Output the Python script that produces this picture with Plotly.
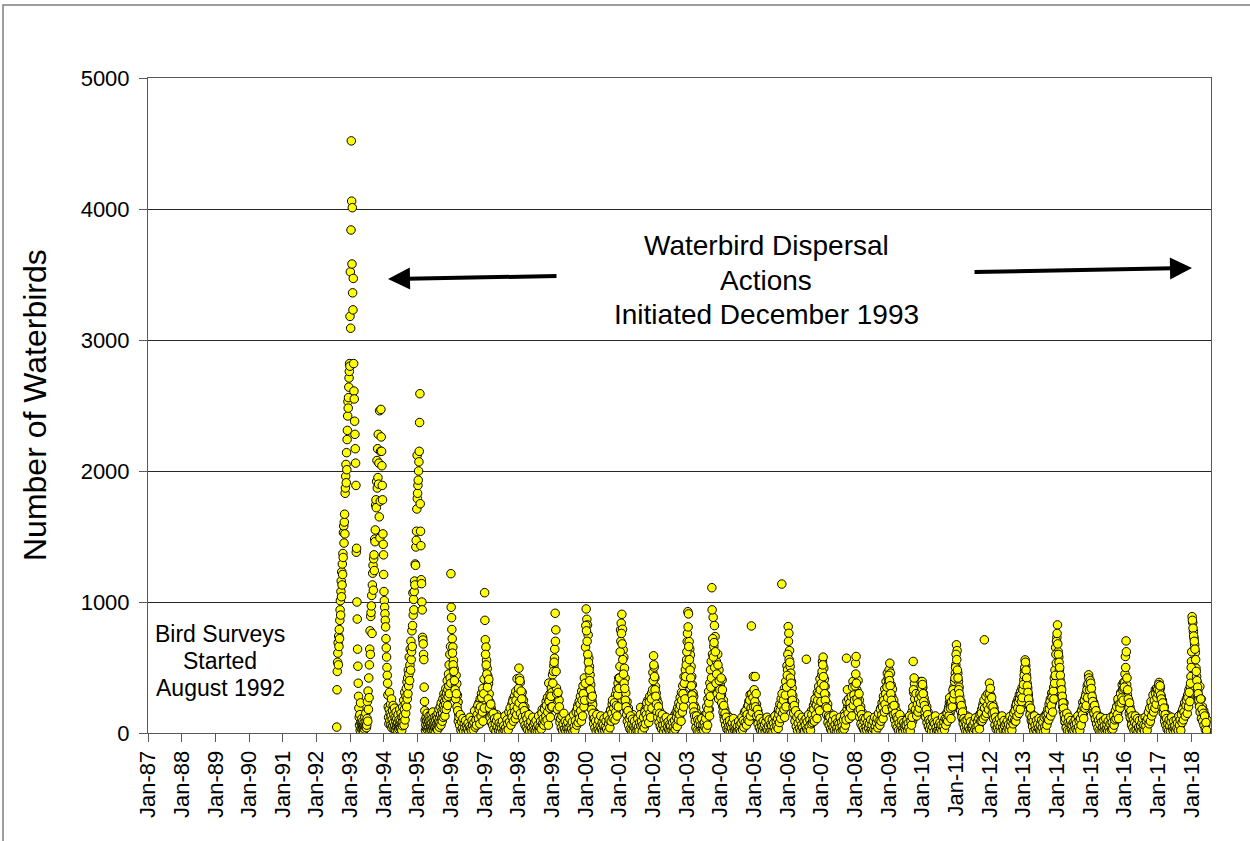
import pandas as pd
import plotly.graph_objects as go

# ---------------- data: waterbird counts per survey season ----------------
season_years = [1992, 1993, 1994, 1995, 1996, 1997, 1998, 1999, 2000, 2001, 2002, 2003, 2004,
                2005, 2006, 2007, 2008, 2009, 2010, 2011, 2012, 2013, 2014, 2015, 2016, 2017, 2018]
season_first_survey = ["1992-08-10"] + [f"{y}-01-01" for y in range(1993, 2019)]
season_last_survey = [f"{y}-12-31" for y in range(1992, 1996)] + [f"{y}-12-26" for y in range(1996, 2018)] + ["2018-06-18"]

c1992 = [45, 330, 470, 540, 610, 690, 520, 740, 660, 790,
         720, 860, 940, 1010, 900, 1080, 1160, 1040, 1230, 1130,
         1290, 1210, 1370, 1340, 1530, 1580, 1450, 1610, 1670, 1520,
         1830, 1870, 1960, 2050, 1910, 2140, 2010, 2240, 2310, 2420,
         2530, 2480, 2560, 2640, 2710, 2760, 2820, 2800]
c1993 = [3180, 3520, 3090, 3840, 4520, 4060, 3580, 4010, 3360,
         3230, 3470, 2820, 2610, 2550, 2380, 2280, 2170,
         2060, 1890, 1380, 1410, 1000, 870, 640, 510, 380,
         280, 190, 120, 60, 140, 20, 230, 80,
         35, 70, 110, 25, 60, 90, 40, 15, 55,
         80, 30, 120, 60, 45, 150, 90, 40,
         60, 110, 240, 90, 320, 180, 420, 270, 520,
         640, 780, 600, 890, 920, 970, 1050, 760, 1130,
         1220, 1280, 1090, 1330, 1360, 1240, 1480, 1460,
         1550, 1740, 1780, 1720, 1920, 2080, 1870, 2170, 1950,
         2280, 1900, 2060, 1650, 2460, 1490, 1770, 2150,
         2470, 2260, 2150, 2040, 1890, 1780, 1520, 1440, 1360]
c1994 = [1210, 1080, 1010, 960, 910, 860, 810, 720, 650,
         580, 500, 440, 380, 290, 200, 120, 70,
         180, 310, 95, 150, 220, 60, 130, 260, 40,
         100, 170, 55, 210, 80, 140, 30, 190,
         60, 120, 25, 90, 160, 45, 110, 70, 20,
         80, 140, 50, 30, 100, 60, 180, 40,
         90, 35, 150, 70, 20, 120, 55, 200, 85,
         130, 250, 60, 180, 310, 100, 220, 150, 280,
         340, 200, 390, 260, 420, 300, 480, 360,
         450, 580, 400, 520, 640, 480, 700, 560, 620,
         780, 660, 820, 1070, 900, 1020, 940, 1080,
         1160, 1130, 1290, 1280, 1420, 1470, 1540, 1710, 2120]
c1995 = [1790, 1830, 1890, 1930, 2000, 2070, 2150, 2370, 2590,
         1750, 1540, 1430, 1170, 1140, 1000, 940, 730,
         710, 680, 600, 560, 350, 240, 170, 100, 20,
         60, 120, 35, 90, 150, 25, 70, 110,
         40, 85, 130, 20, 65, 100, 30, 55, 140,
         75, 25, 110, 50, 160, 35, 90, 20,
         60, 120, 40, 80, 15, 100, 50, 130, 30,
         70, 110, 25, 150, 60, 90, 180, 45, 120,
         80, 200, 140, 60, 230, 110, 170, 90,
         150, 260, 120, 210, 300, 180, 240, 130, 280,
         220, 340, 180, 300, 260, 400, 210, 330,
         280, 450, 360, 520, 300, 600, 420, 660, 380]
c1996 = [1216, 880, 720, 656, 555, 491, 440, 364, 440, 377, 288, 237, 148,
         110, 70, 130, 45, 90, 30, 60, 100, 25, 50, 80, 20, 40,
         30, 60, 15, 45, 90, 25, 70, 40, 110, 55, 130, 80, 150,
         120, 190, 90, 160, 230, 140, 260, 180, 300, 220, 340, 250, 410]
c1997 = [1071, 712, 656, 555, 491, 433, 377, 300, 237, 148, 190, 110, 160,
         80, 120, 50, 95, 30, 70, 140, 40, 60, 25, 90, 35, 55,
         20, 45, 70, 30, 100, 50, 15, 80, 60, 120, 40, 95, 140,
         110, 180, 90, 220, 150, 260, 130, 280, 200, 317, 170, 414, 240]
c1998 = [284, 495, 419, 386, 228, 279, 310, 190, 250, 140, 200, 110, 160,
         90, 130, 60, 100, 40, 80, 120, 30, 70, 50, 20, 90, 45,
         30, 65, 20, 90, 50, 110, 35, 75, 140, 60, 100, 180, 80,
         150, 120, 200, 170, 240, 140, 270, 210, 381, 260, 300, 230, 343]
c1999 = [310, 444, 266, 513, 571, 914, 787, 343, 279, 230, 180, 250, 130,
         150, 90, 120, 60, 100, 40, 80, 55, 30, 70, 110, 45, 25,
         60, 35, 90, 20, 75, 50, 120, 30, 100, 65, 140, 85, 170,
         130, 210, 160, 240, 110, 280, 190, 320, 230, 360, 270, 420, 305]
c2000 = [655, 947, 868, 825, 749, 571, 508, 444, 368, 305, 241, 216, 114,
         160, 80, 130, 50, 100, 30, 70, 120, 40, 90, 20, 60, 35,
         50, 25, 80, 40, 110, 20, 65, 95, 45, 130, 75, 150, 100,
         180, 120, 220, 160, 250, 140, 200, 290, 180, 330, 240, 380, 419]
c2001 = [343, 508, 787, 838, 906, 792, 635, 579, 495, 419, 305, 183, 240,
         130, 190, 80, 150, 60, 110, 40, 90, 140, 30, 70, 50, 20,
         40, 80, 25, 60, 100, 35, 75, 195, 127, 25, 110, 60, 150,
         120, 180, 90, 210, 150, 250, 130, 190, 280, 220, 160, 305, 240]
c2002 = [462, 589, 503, 419, 355, 305, 259, 190, 230, 127, 170, 90, 140,
         70, 110, 40, 90, 130, 55, 25, 80, 60, 100, 35, 50, 20,
         45, 75, 30, 95, 55, 20, 120, 65, 140, 85, 160, 110, 190,
         150, 230, 120, 270, 180, 310, 210, 360, 250, 431, 300, 482, 380]
c2003 = [558, 698, 926, 909, 698, 640, 596, 508, 431, 368, 305, 279, 211,
         140, 190, 90, 150, 60, 120, 40, 80, 110, 30, 70, 50, 20,
         60, 100, 35, 140, 80, 200, 120, 260, 317, 180, 381, 482, 546,
         1109, 602, 883, 660, 820, 736, 431, 546, 381, 602, 330, 482, 292]
c2004 = [368, 330, 292, 406, 203, 250, 127, 180, 90, 150, 60, 110, 40,
         80, 120, 30, 70, 100, 45, 20, 65, 90, 35, 55, 15, 40,
         25, 60, 35, 80, 20, 50, 100, 40, 70, 120, 55, 90, 140,
         110, 170, 80, 200, 130, 240, 160, 292, 190, 817, 241, 210, 431]
c2005 = [260, 180, 431, 150, 220, 110, 170, 80, 130, 60, 100, 40, 90,
         50, 75, 25, 110, 45, 70, 20, 60, 35, 90, 15, 50, 30,
         40, 70, 20, 55, 95, 30, 80, 45, 120, 60, 150, 90, 180,
         130, 220, 160, 260, 1137, 200, 300, 240, 340, 266, 393, 280, 513]
c2006 = [482, 812, 761, 629, 508, 457, 393, 343, 284, 228, 178, 240, 130,
         90, 150, 60, 110, 40, 80, 125, 30, 70, 50, 100, 25, 60,
         40, 85, 20, 563, 60, 110, 35, 75, 140, 55, 95, 170, 120,
         150, 210, 130, 234, 180, 270, 160, 310, 220, 355, 250, 414, 290]
c2007 = [335, 444, 546, 579, 495, 411, 355, 292, 234, 178, 220, 120, 160,
         90, 130, 50, 100, 70, 30, 110, 60, 40, 85, 20, 55, 35,
         50, 25, 80, 45, 100, 30, 65, 120, 50, 90, 150, 70, 130,
         571, 180, 216, 140, 330, 200, 260, 170, 300, 230, 393, 250, 330]
c2008 = [300, 533, 584, 330, 279, 400, 203, 250, 150, 200, 102, 160, 80,
         120, 60, 95, 40, 75, 110, 30, 60, 90, 20, 50, 35, 70,
         25, 55, 40, 85, 20, 65, 100, 45, 75, 130, 60, 110, 150,
         120, 190, 150, 230, 170, 280, 200, 335, 250, 393, 300, 457, 368]
c2009 = [411, 482, 533, 457, 368, 279, 335, 221, 250, 160, 210, 110, 170,
         80, 130, 50, 100, 30, 70, 120, 40, 90, 60, 20, 50, 30,
         45, 80, 25, 60, 100, 35, 75, 130, 55, 110, 160, 90, 546,
         305, 376, 203, 250, 170, 280, 190, 300, 230, 340, 266, 393, 260]
c2010 = [393, 348, 300, 266, 190, 230, 150, 200, 110, 160, 70, 120, 60,
         95, 40, 80, 120, 30, 60, 100, 25, 70, 45, 20, 55, 35,
         50, 20, 75, 40, 95, 30, 60, 110, 45, 85, 140, 70, 120,
         160, 110, 200, 234, 150, 228, 180, 260, 292, 220, 350, 393, 457]
c2011 = [520, 673, 629, 457, 393, 350, 279, 203, 240, 150, 190, 100, 140,
         70, 110, 40, 85, 130, 30, 65, 100, 45, 20, 70, 35, 55,
         25, 60, 40, 90, 20, 55, 110, 35, 75, 130, 60, 100, 150,
         120, 180, 140, 220, 160, 711, 200, 250, 180, 228, 280, 210, 300]
c2012 = [381, 250, 284, 241, 178, 220, 140, 190, 100, 150, 70, 120, 60,
         90, 40, 75, 110, 30, 60, 95, 25, 55, 80, 20, 45, 35,
         55, 25, 80, 45, 100, 30, 70, 120, 50, 95, 140, 75, 160,
         130, 200, 150, 234, 180, 260, 200, 292, 259, 317, 223, 343, 292]
c2013 = [317, 406, 470, 558, 513, 444, 381, 343, 292, 241, 200, 165, 130,
         90, 140, 60, 110, 40, 80, 120, 30, 70, 50, 100, 25, 60,
         40, 85, 20, 65, 110, 35, 75, 130, 55, 100, 150, 80, 180,
         140, 220, 170, 260, 190, 305, 230, 292, 350, 419, 480, 652, 533]
c2014 = [728, 825, 622, 579, 482, 406, 355, 305, 254, 200, 165, 230, 120,
         80, 130, 50, 100, 70, 30, 110, 60, 40, 90, 20, 55, 35,
         50, 25, 80, 45, 100, 30, 65, 120, 50, 90, 150, 70, 130,
         180, 234, 150, 216, 260, 178, 300, 230, 360, 317, 444, 300, 360]
c2015 = [317, 300, 216, 260, 178, 234, 140, 190, 100, 150, 70, 120, 60,
         95, 40, 80, 120, 30, 60, 100, 25, 70, 45, 20, 55, 35,
         50, 20, 75, 40, 95, 30, 60, 110, 45, 85, 140, 70, 120,
         160, 110, 203, 150, 240, 180, 270, 216, 310, 250, 368, 292, 386]
c2016 = [310, 386, 584, 703, 368, 292, 216, 250, 150, 200, 110, 160, 80,
         120, 60, 95, 40, 75, 110, 30, 60, 90, 20, 50, 35, 70,
         25, 55, 40, 85, 20, 65, 100, 45, 75, 130, 60, 110, 150,
         120, 180, 150, 220, 170, 250, 200, 280, 223, 330, 260, 343, 300]
c2017 = [280, 343, 386, 330, 348, 284, 223, 250, 208, 160, 200, 120, 150,
         80, 120, 50, 95, 130, 40, 70, 100, 30, 60, 85, 25, 50,
         40, 70, 25, 90, 55, 110, 35, 80, 130, 60, 100, 160, 120,
         150, 200, 170, 230, 180, 260, 210, 290, 240, 330, 270, 355, 431]
c2018 = [546, 888, 843, 774, 723, 673, 614, 495, 431, 386, 330, 279, 228,
         355, 203, 260, 150, 200, 120, 170, 102, 140, 60, 13, 100]

season_counts = [c1992, c1993, c1994, c1995, c1996, c1997, c1998, c1999, c2000, c2001,
                 c2002, c2003, c2004, c2005, c2006, c2007, c2008, c2009, c2010, c2011,
                 c2012, c2013, c2014, c2015, c2016, c2017, c2018]

# second (mid-week) survey of each week, 1996 onwards
midweek_first_survey = [f"{y}-01-04" for y in range(1996, 2019)]
midweek_last_survey = [f"{y}-12-29" for y in range(1996, 2018)] + ["2018-06-14"]

m1996 = [960, 790, 610, 520, 470, 400, 330, 260, 300, 200, 170, 90, 120,
         60, 140, 20, 85, 35, 110, 15, 70, 40, 95, 10, 55, 30,
         75, 10, 50, 120, 35, 20, 95, 60, 25, 80, 170, 45, 100,
         60, 140, 210, 110, 180, 70, 200, 130, 270, 160, 90, 300, 190]
m1997 = [860, 600, 520, 450, 350, 260, 410, 190, 120, 220, 80, 140, 60,
         150, 30, 110, 70, 15, 95, 45, 120, 20, 75, 40, 10, 65,
         35, 90, 10, 55, 25, 130, 40, 15, 100, 70, 25, 160, 85,
         190, 60, 150, 120, 240, 90, 200, 160, 110, 250, 140, 190, 300]
m1998 = [340, 230, 400, 150, 320, 260, 120, 200, 90, 170, 60, 130, 40,
         110, 25, 70, 140, 15, 55, 90, 35, 10, 120, 60, 25, 80,
         15, 95, 40, 10, 60, 130, 20, 45, 90, 30, 150, 70, 110,
         60, 180, 90, 130, 210, 100, 160, 60, 240, 190, 120, 280, 200]
m1999 = [200, 380, 470, 540, 640, 700, 470, 300, 180, 310, 120, 200, 80,
         110, 40, 130, 20, 70, 150, 30, 90, 15, 60, 35, 85, 10,
         40, 110, 15, 60, 30, 85, 10, 140, 50, 20, 95, 160, 60,
         190, 80, 150, 110, 220, 170, 90, 250, 130, 300, 200, 250, 380]
m2000 = [820, 780, 700, 600, 540, 480, 400, 330, 260, 180, 280, 150, 70,
         110, 40, 90, 15, 140, 60, 25, 95, 10, 50, 130, 30, 75,
         15, 60, 110, 20, 45, 90, 30, 130, 10, 70, 100, 40, 170,
         90, 150, 250, 110, 190, 230, 100, 160, 210, 130, 290, 200, 340]
m2001 = [420, 620, 700, 760, 680, 560, 450, 380, 340, 250, 200, 140, 90,
         170, 60, 110, 30, 130, 20, 70, 105, 15, 50, 90, 35, 10,
         60, 20, 110, 45, 15, 80, 140, 55, 90, 10, 60, 120, 40,
         160, 70, 140, 230, 110, 190, 80, 240, 150, 120, 260, 190, 330]
m2002 = [400, 520, 430, 330, 280, 220, 160, 120, 200, 80, 150, 50, 110,
         30, 140, 60, 15, 100, 35, 70, 120, 10, 45, 85, 25, 65,
         15, 55, 110, 20, 80, 40, 10, 95, 30, 60, 120, 50, 150,
         100, 180, 140, 210, 90, 250, 160, 300, 200, 380, 260, 430, 520]
m2003 = [620, 760, 810, 660, 560, 480, 420, 360, 290, 250, 200, 160, 130,
         90, 40, 130, 20, 100, 70, 15, 95, 55, 25, 110, 35, 60,
         20, 80, 45, 110, 30, 150, 60, 180, 230, 130, 280, 350, 420,
         940, 720, 580, 690, 500, 620, 380, 450, 300, 520, 260, 400, 330]
m2004 = [280, 420, 230, 330, 160, 210, 100, 150, 60, 120, 30, 85, 20,
         55, 95, 15, 60, 35, 80, 10, 110, 45, 20, 70, 30, 10,
         50, 15, 90, 30, 60, 10, 75, 120, 25, 95, 45, 160, 80,
         170, 60, 140, 100, 210, 90, 250, 130, 190, 300, 160, 270, 200]
m2005 = [330, 240, 200, 300, 130, 180, 70, 140, 40, 110, 20, 75, 50,
         15, 90, 40, 65, 10, 85, 30, 120, 20, 55, 100, 10, 65,
         20, 55, 100, 15, 75, 40, 130, 20, 90, 50, 110, 35, 140,
         80, 170, 110, 210, 300, 150, 250, 180, 120, 290, 200, 350, 440]
m2006 = [600, 700, 560, 540, 420, 380, 300, 250, 200, 150, 210, 90, 170,
         50, 120, 20, 75, 140, 35, 100, 15, 60, 120, 40, 10, 90,
         15, 60, 110, 30, 85, 20, 140, 50, 100, 20, 70, 140, 80,
         100, 180, 90, 260, 140, 210, 110, 250, 190, 300, 170, 330, 240]
m2007 = [380, 470, 520, 430, 360, 300, 250, 200, 140, 190, 80, 130, 60,
         120, 30, 75, 15, 95, 45, 135, 20, 65, 105, 10, 40, 80,
         15, 70, 40, 120, 10, 85, 50, 20, 100, 30, 130, 60, 100,
         240, 330, 150, 260, 110, 230, 190, 280, 130, 350, 210, 290, 250]
m2008 = [360, 450, 380, 260, 230, 170, 300, 120, 180, 70, 140, 50, 110,
         30, 90, 15, 110, 50, 20, 80, 130, 35, 70, 10, 100, 25,
         60, 10, 90, 30, 120, 50, 15, 80, 110, 40, 150, 90, 60,
         180, 90, 140, 200, 110, 250, 160, 220, 300, 180, 350, 270, 420]
m2009 = [440, 400, 360, 300, 250, 200, 180, 140, 210, 100, 150, 60, 120,
         40, 110, 20, 75, 140, 15, 55, 95, 30, 10, 80, 40, 60,
         15, 60, 100, 20, 75, 40, 130, 15, 90, 60, 120, 200, 330,
         420, 260, 180, 300, 130, 220, 160, 260, 190, 300, 230, 280, 340]
m2010 = [370, 300, 240, 210, 160, 120, 180, 80, 140, 50, 100, 30, 85,
         55, 15, 110, 45, 80, 10, 70, 130, 40, 15, 90, 20, 60,
         10, 80, 35, 60, 15, 120, 50, 85, 25, 110, 60, 100, 150,
         90, 180, 130, 270, 190, 110, 240, 200, 330, 260, 300, 420, 500]
m2011 = [600, 560, 480, 420, 330, 300, 250, 170, 210, 120, 160, 70, 110,
         40, 90, 15, 60, 100, 10, 45, 120, 25, 85, 10, 50, 30,
         60, 10, 85, 30, 115, 45, 15, 90, 55, 110, 30, 140, 90,
         150, 90, 200, 110, 250, 190, 130, 280, 150, 210, 300, 180, 250]
m2012 = [300, 340, 210, 270, 150, 200, 110, 160, 60, 120, 30, 90, 40,
         70, 15, 110, 50, 10, 80, 130, 40, 20, 95, 55, 10, 70,
         20, 90, 40, 65, 15, 125, 55, 90, 20, 110, 70, 150, 95,
         170, 90, 220, 130, 190, 240, 150, 260, 180, 290, 240, 270, 330]
m2013 = [370, 440, 500, 540, 480, 420, 360, 310, 260, 210, 140, 190, 100,
         120, 50, 90, 15, 130, 60, 25, 95, 10, 70, 35, 110, 20,
         60, 15, 100, 40, 80, 10, 120, 50, 20, 130, 60, 110, 150,
         100, 180, 240, 130, 210, 270, 160, 320, 260, 380, 440, 600, 700]
m2014 = [760, 680, 600, 540, 500, 440, 380, 330, 280, 230, 190, 140, 90,
         110, 40, 150, 20, 80, 120, 15, 70, 95, 30, 60, 10, 80,
         20, 65, 100, 30, 75, 15, 130, 45, 95, 20, 110, 60, 170,
         140, 200, 110, 250, 190, 280, 210, 330, 270, 380, 420, 330, 400]
m2015 = [380, 340, 280, 240, 200, 150, 210, 110, 170, 70, 130, 40, 95,
         20, 70, 120, 15, 85, 40, 10, 95, 55, 20, 110, 30, 65,
         15, 90, 40, 10, 70, 120, 25, 80, 30, 130, 60, 100, 170,
         110, 200, 140, 260, 110, 220, 190, 300, 230, 270, 330, 250, 340]
m2016 = [350, 450, 500, 620, 420, 330, 260, 190, 230, 120, 170, 60, 130,
         40, 100, 15, 80, 130, 20, 65, 110, 10, 45, 95, 25, 55,
         10, 75, 110, 30, 60, 15, 120, 55, 95, 20, 110, 160, 70,
         190, 90, 240, 130, 200, 290, 160, 250, 190, 300, 220, 270, 330]
m2017 = [300, 370, 320, 360, 290, 260, 200, 230, 150, 190, 90, 140, 60,
         110, 30, 70, 15, 100, 55, 10, 85, 120, 40, 20, 90, 35,
         55, 15, 100, 35, 75, 20, 130, 60, 100, 20, 140, 80, 180,
         100, 160, 230, 130, 210, 250, 150, 270, 200, 310, 240, 380, 500]
m2018 = [620, 860, 800, 740, 700, 640, 560, 470, 400, 350, 300, 250, 200,
         160, 260, 110, 180, 90, 150, 60, 130, 30, 80, 20]

midweek_counts = [m1996, m1997, m1998, m1999, m2000, m2001, m2002, m2003, m2004, m2005,
                  m2006, m2007, m2008, m2009, m2010, m2011, m2012, m2013, m2014, m2015,
                  m2016, m2017, m2018]

x_tick_start = "1987-01-01"
x_axis_end = "2018-08-01"
y_ticks = [0, 1000, 2000, 3000, 4000, 5000]

# ---------------- assemble survey dates ----------------
dates, counts = [], []
for first, last, vals in list(zip(season_first_survey, season_last_survey, season_counts)) + \
        list(zip(midweek_first_survey, midweek_last_survey, midweek_counts)):
    d = pd.date_range(first, last, periods=len(vals))
    dates.extend(d)
    counts.extend(vals)

FONT = "Liberation Sans, Arial, sans-serif"

fig = go.Figure()
fig.add_trace(go.Scatter(
    x=dates, y=counts, mode="markers",
    marker=dict(size=8.5, color="#FFFF00", line=dict(color="#000000", width=1)),
    showlegend=False, hoverinfo="x+y",
))

# plot-area geometry (pixels) used for placing the paper-referenced annotations
L, R, T, B = 148, 1211, 78, 733
W, H = R - L, B - T
def px(x):
    return (x - L) / W
def py(y):
    return (B - y) / H

fig.update_layout(
    width=1250, height=841,
    margin=dict(l=L, r=1250 - R, t=T, b=841 - B),
    paper_bgcolor="white", plot_bgcolor="white",
    font=dict(family=FONT, color="black"),
    xaxis=dict(
        type="date", range=[x_tick_start, x_axis_end],
        tick0=x_tick_start, dtick="M12", tickformat="%b-%y",
        tickangle=-90, tickfont=dict(size=22),
        ticks="outside", ticklen=8, tickcolor="#595959",
        showgrid=False, showline=True, linecolor="#595959", linewidth=1, mirror=True,
        zeroline=False,
    ),
    yaxis=dict(
        range=[0, 5000], tickvals=y_ticks, tickfont=dict(size=22),
        ticks="outside", ticklen=8, tickcolor="#595959",
        showgrid=True, gridcolor="#262626", gridwidth=1,
        showline=True, linecolor="#595959", linewidth=1, mirror=True,
        zeroline=False, ticklabelstandoff=5,
    ),
)

# outer chart frame
fig.add_shape(type="rect", xref="paper", yref="paper",
              x0=px(3), x1=px(1320), y0=py(900), y1=py(5),
              line=dict(color="#7f7f7f", width=1.5), layer="below")

# y title
fig.add_annotation(text="Number of Waterbirds", xref="paper", yref="paper",
                   x=px(35), y=py(405), xanchor="center", yanchor="middle",
                   showarrow=False, textangle=-90,
                   font=dict(size=32, family=FONT, color="black"))

# dispersal text
for txt, yy in [("Waterbird Dispersal", 245), ("Actions", 280), ("Initiated December 1993", 314)]:
    fig.add_annotation(text=txt, xref="paper", yref="paper", x=px(766), y=py(yy),
                       xanchor="center", yanchor="middle",
                       showarrow=False, font=dict(size=28, family=FONT, color="black"))

# bird surveys text
for txt, yy in [("Bird Surveys", 634), ("Started", 661), ("August 1992", 688)]:
    fig.add_annotation(text=txt, xref="paper", yref="paper", x=px(220), y=py(yy),
                       xanchor="center", yanchor="middle",
                       showarrow=False, font=dict(size=23, family=FONT, color="black"))

# arrows
fig.add_annotation(text="", xref="paper", yref="paper", x=px(388), y=py(279),
                   ax=170, ay=-3, showarrow=True, arrowhead=2, arrowsize=1.1,
                   arrowwidth=4, arrowcolor="black")
fig.add_annotation(text="", xref="paper", yref="paper", x=px(1192), y=py(268),
                   ax=-219, ay=4, showarrow=True, arrowhead=2, arrowsize=1.1,
                   arrowwidth=4, arrowcolor="black")

fig.write_html("out.html")
